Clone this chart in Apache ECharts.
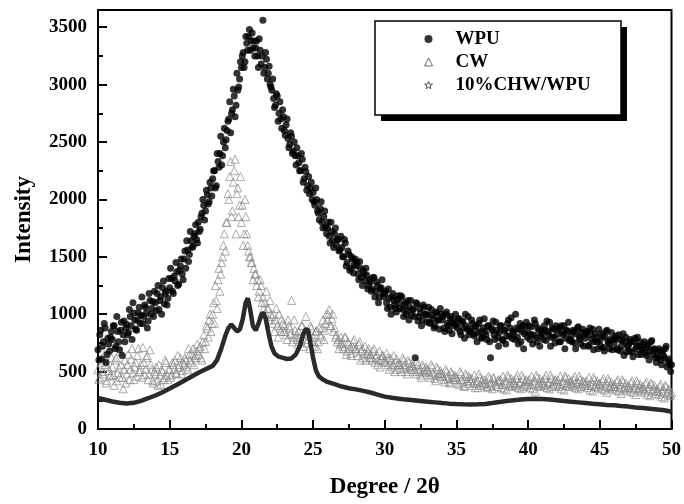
<!DOCTYPE html>
<html>
<head>
<meta charset="utf-8">
<script src="https://cdn.jsdelivr.net/npm/echarts@6/dist/echarts.min.js"></script>
<style>html,body{margin:0;padding:0;background:#fff;}#c{width:684px;height:504px;}</style>
</head>
<body>
<div id="c"></div>
<script>
// sampling grid of the diffractogram (2θ start and step); second pass interleaves at half step
const xStart = 10, xStep = 0.125, xStart2 = 10.0625;
const seriesNames = ['WPU', 'CW', '10%CHW/WPU'];
const xTicks = [10, 15, 20, 25, 30, 35, 40, 45, 50];
const yTicks = [0, 500, 1000, 1500, 2000, 2500, 3000, 3500];

const wpuY = [
 690, 820, 610, 760, 880, 650, 740, 800,
 780, 900, 720, 850, 690, 930, 820, 760,
 910, 840, 980, 780, 1010, 870, 950, 1060,
 990, 920, 1080, 1010, 940, 1120, 1050, 980,
 1100, 1180, 1040, 1150, 1230, 1090, 1200, 1140,
 1230, 1310, 1180, 1290, 1370, 1260, 1420, 1350,
 1480, 1400, 1560, 1520, 1640, 1590, 1700, 1650,
 1800, 1740, 1880, 1950, 1900, 2040, 1980, 2100,
 2180, 2250, 2120, 2330, 2400, 2300, 2500, 2450,
 2600, 2700, 2580, 2780, 2900, 2820, 2950, 3050,
 3150, 3280, 3200, 3360, 3420, 3300, 3450, 3380,
 3320, 3250, 3400, 3180, 3560, 3150, 3220, 3100,
 3000, 2950, 2880, 2820, 2900, 2750, 2700, 2780,
 2600, 2650, 2530, 2480, 2550, 2420, 2380, 2450,
 2320, 2250, 2350, 2180, 2240, 2120, 2050, 2150,
 2060, 1950, 2000, 1880, 1920, 1800, 1850, 1760,
 1750, 1680, 1800, 1640, 1700, 1600, 1650, 1560,
 1580, 1500, 1620, 1450, 1520, 1400, 1480, 1430,
 1420, 1350, 1460, 1320, 1380, 1290, 1340, 1250,
 1280, 1220, 1320, 1200, 1250, 1150, 1230, 1180,
 1180, 1100, 1220, 1060, 1150, 1120, 1050, 1130,
 1100, 1160, 1040, 1080, 1000, 1120, 1060, 990,
 1040, 620, 1090, 980, 1010, 950, 1060, 1000,
 990, 930, 1040, 960, 900, 1010, 950, 1050,
 950, 880, 1000, 920, 860, 980, 940, 900,
 910, 960, 850, 930, 880, 1000, 870, 820,
 870, 920, 810, 900, 840, 950, 790, 880,
 850, 780, 900, 620, 860, 820, 930, 800,
 840, 900, 770, 860, 810, 950, 880, 790,
 840, 1000, 800, 870, 760, 900, 830, 930,
 840, 780, 890, 820, 920, 760, 860, 810,
 830, 900, 770, 850, 930, 800, 870, 750,
 820, 880, 760, 840, 900, 790, 850, 770,
 810, 860, 750, 830, 890, 780, 840, 720,
 790, 850, 730, 820, 870, 760, 800, 700,
 770, 830, 710, 800, 860, 740, 780, 690,
 750, 810, 690, 780, 720, 830, 760, 670,
 730, 780, 670, 760, 700, 800, 720, 650,
 700, 760, 640, 730, 680, 770, 690, 620,
 650, 700, 600, 680, 620, 720, 590, 560,
 560
];
const wpuY2 = [
 600, 860, 720, 920, 580, 790, 680, 850,
 900, 700, 980, 760, 860, 640, 940, 880,
 820, 1040, 900, 1100, 950, 860, 1010, 920,
 1150, 980, 1060, 880, 1180, 1000, 1110, 1200,
 1030, 1250, 1120, 1000, 1290, 1180, 1080, 1310,
 1400, 1200, 1330, 1450, 1250, 1380, 1480, 1300,
 1550, 1640, 1460, 1720, 1580, 1680, 1780, 1620,
 1720, 1850, 2000, 1820, 2080, 1960, 2150, 2030,
 2250, 2100, 2400, 2280, 2550, 2380, 2620, 2520,
 2680, 2850, 2750, 2960, 2720, 3100, 2980, 3200,
 3250, 3150, 3420, 3300, 3480, 3380, 3320, 3250,
 3380, 3150, 3300, 3250, 3100, 3280, 3050, 3160,
 2980, 3050, 2800, 2920, 2680, 2850, 2620, 2720,
 2560, 2700, 2450, 2580, 2400, 2500, 2300, 2380,
 2250, 2400, 2150, 2280, 2080, 2200, 2100, 2000,
 1980, 2100, 1900, 1820, 1980, 1750, 1900, 1700,
 1800, 1620, 1720, 1580, 1750, 1650, 1550, 1680,
 1500, 1650, 1420, 1550, 1380, 1500, 1360, 1480,
 1450, 1300, 1400, 1250, 1350, 1400, 1220, 1300,
 1200, 1320, 1150, 1280, 1100, 1220, 1300, 1150,
 1200, 1050, 1140, 1000, 1180, 1080, 1020, 1160,
 1050, 1150, 980, 1100, 1030, 950, 1120, 1040,
 980, 1100, 940, 1050, 900, 1080, 1000, 930,
 1060, 920, 990, 880, 1020, 950, 870, 1000,
 980, 850, 1020, 900, 960, 830, 920, 1000,
 880, 960, 820, 940, 790, 900, 980, 850,
 950, 830, 890, 760, 920, 850, 800, 960,
 820, 900, 760, 880, 940, 780, 860, 720,
 900, 780, 860, 740, 920, 810, 970, 850,
 780, 880, 740, 920, 850, 700, 890, 800,
 900, 820, 740, 950, 800, 880, 720, 860,
 780, 860, 940, 820, 720, 880, 800, 900,
 870, 760, 900, 820, 700, 860, 930, 780,
 760, 850, 700, 880, 800, 740, 870, 820,
 840, 720, 880, 780, 690, 830, 760, 870,
 720, 810, 680, 850, 760, 700, 840, 780,
 790, 700, 820, 680, 770, 640, 800, 720,
 680, 760, 630, 790, 720, 650, 760, 690,
 740, 660, 710, 600, 760, 650, 700, 580,
 620, 680, 560, 640, 700, 540, 610, 500
];

const cwY = [
 520, 450, 600, 480, 560, 420, 510, 470,
 540, 380, 620, 490, 450, 560, 350, 600,
 480, 650, 520, 700, 430, 580, 640, 500,
 560, 710, 470, 620, 430, 690, 520, 400,
 480, 420, 560, 390, 500, 450, 580, 430,
 520, 470, 560, 600, 480, 540, 620, 510,
 560, 600, 520, 650, 580, 700, 620, 680,
 650, 720, 600, 820, 760, 880, 950, 850,
 1000, 920, 1120, 1300, 1200, 1450, 1600, 1550,
 1800, 2000, 2330, 1900, 2250, 1700, 2100, 1950,
 1800, 1600, 2000, 1700, 1550, 1500, 1450, 1400,
 1350, 1300, 1200, 1250, 1150, 1100, 1200, 1050,
 1120, 980, 1000, 950, 900, 1000, 850, 920,
 900, 820, 950, 880, 1120, 800, 860, 780,
 850, 760, 900, 820, 980, 780, 700, 880,
 800, 720, 860, 760, 820, 880, 780, 920,
 950, 1040, 900, 1000, 880, 820, 780, 740,
 750, 700, 800, 680, 740, 660, 720, 780,
 700, 640, 760, 680, 620, 720, 650, 700,
 650, 600, 700, 620, 560, 680, 610, 640,
 600, 660, 560, 620, 540, 640, 580, 520,
 580, 530, 620, 560, 500, 600, 540, 570,
 550, 500, 590, 520, 470, 560, 510, 540,
 520, 470, 560, 490, 440, 540, 480, 510,
 480, 430, 520, 460, 410, 500, 450, 470,
 450, 400, 500, 430, 380, 480, 420, 460,
 420, 380, 470, 400, 360, 450, 410, 390,
 430, 370, 460, 400, 350, 440, 390, 420,
 410, 360, 460, 390, 340, 450, 400, 370,
 420, 380, 470, 400, 350, 440, 390, 430,
 410, 360, 460, 390, 330, 450, 400, 370,
 420, 380, 470, 400, 350, 440, 390, 430,
 410, 370, 460, 390, 340, 450, 400, 370,
 420, 380, 460, 400, 350, 430, 390, 410,
 400, 360, 450, 380, 330, 430, 390, 360,
 400, 350, 440, 370, 320, 420, 380, 350,
 390, 340, 430, 360, 310, 410, 370, 340,
 380, 330, 420, 350, 300, 400, 360, 330,
 370, 320, 410, 340, 290, 390, 350, 310,
 350, 300, 390, 320, 270, 370, 330, 290,
 320
];
const cwY2 = [
 430, 580, 500, 650, 400, 540, 460, 620,
 470, 600, 420, 530, 680, 450, 520, 400,
 560, 430, 610, 490, 540, 460, 700, 520,
 450, 580, 520, 640, 480, 560, 420, 500,
 540, 380, 470, 520, 430, 600, 470, 520,
 450, 580, 520, 490, 640, 560, 480, 580,
 620, 540, 700, 600, 660, 560, 640, 740,
 700, 620, 760, 700, 900, 800, 1000, 920,
 1100, 1250, 1050, 1400, 1350, 1500, 1700, 1800,
 2050, 2200, 1850, 2150, 2350, 2050, 1850, 2200,
 1950, 1700, 1850, 1600, 1500, 1450, 1300, 1350,
 1250, 1150, 1300, 1100, 1050, 1000, 1050, 950,
 1000, 920, 850, 1050, 800, 880, 960, 850,
 850, 780, 900, 830, 760, 950, 820, 740,
 800, 900, 720, 860, 750, 830, 900, 760,
 760, 850, 700, 880, 800, 950, 860, 1000,
 1000, 900, 960, 850, 800, 760, 700, 800,
 720, 800, 650, 760, 700, 640, 760, 700,
 670, 740, 600, 700, 660, 600, 680, 620,
 620, 680, 580, 650, 600, 540, 640, 590,
 580, 620, 520, 600, 560, 500, 610, 560,
 560, 500, 600, 530, 480, 580, 520, 550,
 520, 480, 560, 500, 450, 540, 490, 520,
 500, 450, 540, 470, 420, 520, 460, 490,
 460, 410, 500, 440, 400, 480, 430, 450,
 430, 390, 480, 410, 370, 460, 400, 440,
 440, 400, 360, 420, 480, 380, 430, 400,
 400, 360, 440, 380, 450, 410, 370, 430,
 430, 390, 350, 420, 470, 380, 440, 400,
 390, 440, 360, 410, 470, 370, 420, 380,
 430, 390, 350, 420, 470, 380, 440, 400,
 390, 440, 360, 410, 470, 370, 420, 380,
 430, 390, 350, 420, 460, 380, 440, 400,
 390, 430, 360, 410, 460, 370, 420, 380,
 420, 380, 340, 410, 450, 370, 420, 390,
 380, 420, 340, 400, 440, 360, 410, 370,
 370, 410, 330, 390, 430, 350, 400, 360,
 360, 400, 320, 380, 420, 340, 390, 350,
 350, 390, 300, 370, 400, 330, 380, 330,
 330, 370, 280, 350, 380, 310, 350, 300
];

const chwX = [10,10.5,11,11.5,12,12.5,13,13.5,14,14.5,15,15.5,16,16.5,17,17.5,18,18.3,18.6,18.9,19.1,19.3,19.5,19.7,19.9,20.1,20.3,20.45,20.6,20.8,21.0,21.2,21.4,21.55,21.7,21.9,22.1,22.3,22.6,22.9,23.2,23.5,23.8,24.1,24.3,24.5,24.65,24.8,25.0,25.2,25.4,25.7,26,26.5,27,27.5,28,28.5,29,29.5,30,30.5,31,31.5,32,32.5,33,33.5,34,34.5,35,35.5,36,36.5,37,37.5,38,38.5,39,39.5,40,40.5,41,41.5,42,42.5,43,43.5,44,44.5,45,45.5,46,46.5,47,47.5,48,48.5,49,49.5,50];
const chwY = [270,255,240,228,222,228,245,268,292,320,352,385,420,455,490,520,550,600,700,820,880,910,880,850,870,960,1100,1140,1050,900,860,920,1000,1010,960,830,720,660,630,620,610,615,650,730,820,870,860,760,620,510,460,430,410,390,370,355,345,332,318,300,282,272,264,256,250,244,238,232,226,221,217,215,214,215,218,226,236,244,251,257,261,263,261,257,251,244,238,232,226,220,215,210,206,200,195,188,182,176,170,163,150];

const font = "'Liberation Serif','Times New Roman',serif";
const starPath = 'path://M5,0 L6.18,3.62 L10,3.62 L6.91,5.86 L8.09,9.5 L5,7.26 L1.91,9.5 L3.09,5.86 L0,3.62 L3.82,3.62 Z';

const wpuData = wpuY.map((y, i) => [xStart + i * xStep, y])
  .concat(wpuY2.map((y, i) => [xStart2 + i * xStep, y]));
const cwData = cwY.map((y, i) => [xStart + i * xStep, y])
  .concat(cwY2.map((y, i) => [xStart2 + i * xStep, y]));
const chwData = chwX.map((x, i) => [x, chwY[i]]);

const chart = echarts.init(document.getElementById('c'), null, {renderer: 'canvas'});
chart.setOption({
  animation: false,
  backgroundColor: '#fff',
  grid: {left: 98, right: 12, top: 10, bottom: 71, show: true, borderColor: '#000', borderWidth: 2, backgroundColor: 'transparent'},
  xAxis: {
    type: 'value', min: xTicks[0], max: xTicks[xTicks.length - 1], interval: 5,
    name: 'Degree / 2θ', nameLocation: 'middle', nameGap: 47,
    nameTextStyle: {fontFamily: font, fontWeight: 'bold', fontSize: 23, color: '#000'},
    axisLine: {lineStyle: {color: '#000', width: 2}},
    axisTick: {inside: true, length: 9, lineStyle: {color: '#000', width: 2}},
    minorTick: {show: true, splitNumber: 2, length: 5, lineStyle: {color: '#000', width: 2}},
    splitLine: {show: false},
    axisLabel: {margin: 12, fontFamily: font, fontWeight: 'bold', fontSize: 19, color: '#000'}
  },
  yAxis: {
    type: 'value', min: 0, max: 3650, interval: 500,
    name: 'Intensity', nameLocation: 'middle', nameGap: 62, nameRotate: 90,
    nameTextStyle: {fontFamily: font, fontWeight: 'bold', fontSize: 23, color: '#000'},
    axisLine: {lineStyle: {color: '#000', width: 2}},
    axisTick: {inside: true, length: 9, lineStyle: {color: '#000', width: 2}},
    minorTick: {show: true, splitNumber: 2, length: 5, lineStyle: {color: '#000', width: 2}},
    splitLine: {show: false},
    axisLabel: {margin: 11, fontFamily: font, fontWeight: 'bold', fontSize: 19, color: '#000',
      formatter: v => (yTicks.indexOf(v) >= 0 ? String(v) : '')}
  },
  legend: {
    orient: 'vertical', left: 419, top: 24, itemWidth: 8, itemHeight: 8, itemGap: 3,
    textStyle: {fontFamily: font, fontWeight: 'bold', fontSize: 19, color: '#000', lineHeight: 20, padding: [0, 0, 0, 18]},
    data: [
      {name: seriesNames[0], icon: 'circle', itemStyle: {color: '#000', borderWidth: 0}},
      {name: seriesNames[1], icon: 'triangle', itemStyle: {color: 'rgba(0,0,0,0)', borderColor: '#444', borderWidth: 1}},
      {name: seriesNames[2], icon: starPath, itemStyle: {color: 'rgba(0,0,0,0)', borderColor: '#555', borderWidth: 1}}
    ],
    z: 10
  },
  graphic: [
    {type: 'rect', z: 5, shape: {x: 381, y: 27, width: 246, height: 94}, style: {fill: '#000'}},
    {type: 'rect', z: 6, shape: {x: 375, y: 21, width: 246, height: 94}, style: {fill: '#fff', stroke: '#000', lineWidth: 1.5}}
  ],
  series: [
    {name: seriesNames[0], type: 'scatter', z: 4, symbol: 'circle', symbolSize: 7,
     itemStyle: {color: '#000'}, data: wpuData},
    {name: seriesNames[1], type: 'scatter', z: 2, symbol: 'triangle', symbolSize: 8,
     itemStyle: {color: 'rgba(0,0,0,0)', borderColor: '#8a8a8a', borderWidth: 0.9}, data: cwData},
    {name: seriesNames[2], type: 'line', z: 3, showSymbol: false, symbol: starPath,
     lineStyle: {color: '#2a2a2a', width: 4.5}, itemStyle: {color: '#2a2a2a'}, data: chwData}
  ]
});
</script>
</body>
</html>
